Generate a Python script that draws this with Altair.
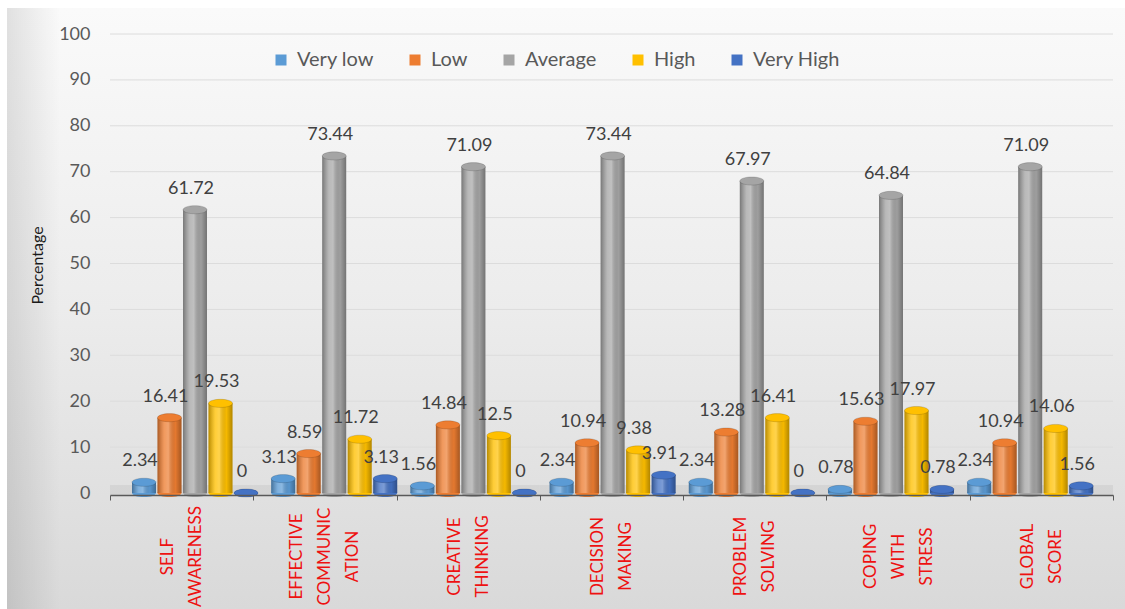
import altair as alt
import pandas as pd

# ---------------- data ----------------
categories = ["SELF|AWARENESS", "EFFECTIVE|COMMUNIC|ATION", "CREATIVE|THINKING",
              "DECISION|MAKING", "PROBLEM|SOLVING", "COPING|WITH|STRESS", "GLOBAL|SCORE"]
series = ["Very low", "Low", "Average", "High", "Very High"]
very_low = [2.34, 3.13, 1.56, 2.34, 2.34, 0.78, 2.34]
low = [16.41, 8.59, 14.84, 10.94, 13.28, 15.63, 10.94]
average = [61.72, 73.44, 71.09, 73.44, 67.97, 64.84, 71.09]
high = [19.53, 11.72, 12.5, 9.38, 16.41, 17.97, 14.06]
very_high = [0, 3.13, 0, 3.91, 0, 0.78, 1.56]
colors = ["#5B9BD5", "#ED7D31", "#A5A5A5", "#FFC000", "#4472C4"]
grid_values = [10, 20, 30, 40, 50, 60, 70, 80, 90, 100]
y_ticks = [0, 10, 20, 30, 40, 50, 60, 70, 80, 90, 100]

rows = []
for s, vals in zip(series, [very_low, low, average, high, very_high]):
    for c, v in zip(categories, vals):
        rows.append({"cat": c, "series": s, "value": v, "label": f"{v:g}"})
df = pd.DataFrame(rows)

# ---------------- layout ----------------
W, H = 1003, 459
PAD = {"left": 110, "top": 34, "right": 12, "bottom": 116}
FONT = "Lato"
LINE_H = 28

x_axis_scale = alt.Scale(domain=categories, range=[0, W], paddingInner=0, paddingOuter=0)
x_bar_scale = alt.Scale(domain=categories, range=[22, 22 + 7 * 139.2], paddingInner=0, paddingOuter=0)
xo_scale = alt.Scale(domain=series, range=[0, 126], paddingInner=0.06, paddingOuter=0)
y_scale = alt.Scale(domain=[0, 100], nice=False)

y_axis = alt.Axis(values=y_ticks, title="Percentage", grid=False, domain=False, ticks=False,
                  labelFont=FONT, labelFontSize=18, labelColor="#595959", labelPadding=20,
                  titleFont=FONT, titleFontSize=16, titleFontWeight="normal", titleColor="#1a1a1a",
                  titleAngle=270, titleX=-73, titleY=231, titleAlign="center", titleBaseline="middle",
                  zindex=1)
Y = alt.Y("value:Q", scale=y_scale, axis=y_axis)

x_axis = alt.Axis(title=None, labelExpr="split(datum.label, '|')", labelAngle=270,
                  labelAlign="center", labelBaseline="middle", labelFont=FONT, labelFontSize=17,
                  labelColor="#ee1111", labelLineHeight=LINE_H, labelPadding=56, labelOverlap=False,
                  domainColor="#595959", domainWidth=1.5, tickColor="#595959", tickSize=5,
                  tickBand="extent", offset=2, grid=False, zindex=1,
                  labelOffset={"condition": {"test": "length(split(datum.value, '|')) == 3",
                                             "value": -LINE_H},
                               "value": -LINE_H / 2})

legend = alt.Legend(orient="none", legendX=161, legendY=16, direction="horizontal", title=None,
                    symbolType="square", symbolSize=121, symbolStrokeWidth=0,
                    labelFont=FONT, labelFontSize=20, labelColor="#595959",
                    columnPadding=31, labelOffset=6, zindex=1)
COLOR = alt.Color("series:N", scale=alt.Scale(domain=series, range=colors), legend=legend, sort=series)

ELL = "M-1,0A1,0.34,0,1,0,1,0A1,0.34,0,1,0,-1,0Z"

# ---------------- background ----------------
one = pd.DataFrame({"k": [0]})
bg = alt.Chart(one).mark_rect(
    color=alt.Gradient(gradient="linear", x1=0, x2=0, y1=0, y2=1,
                       stops=[alt.GradientStop(color="#fafafa", offset=0),
                              alt.GradientStop(color="#ececec", offset=0.5),
                              alt.GradientStop(color="#d9d9d9", offset=1)])
).encode(x=alt.value(-103), x2=alt.value(W + 12), y=alt.value(-26), y2=alt.value(H + 116))

left_shade = alt.Chart(one).mark_rect(
    color=alt.Gradient(gradient="linear", x1=0, x2=1, y1=0, y2=0,
                       stops=[alt.GradientStop(color="rgba(0,0,0,0.10)", offset=0),
                              alt.GradientStop(color="rgba(0,0,0,0)", offset=1)])
).encode(x=alt.value(-103), x2=alt.value(-50), y=alt.value(-26), y2=alt.value(H + 116))

grid = alt.Chart(pd.DataFrame({"value": grid_values})).mark_rule(
    color="#dcdcdc", strokeWidth=1
).encode(y=Y)

floor = alt.Chart(pd.DataFrame({"cat": categories})).mark_rect(
    color="rgba(0,0,0,0.05)"
).encode(x=alt.X("cat:N", scale=x_axis_scale, axis=x_axis, sort=categories),
         y=alt.value(H - 8), y2=alt.value(H + 2))

# ---------------- bars ----------------
base = alt.Chart(df).encode(
    x=alt.X("cat:N", scale=x_bar_scale, axis=None, sort=categories),
    xOffset=alt.XOffset("series:N", scale=xo_scale, sort=series),
    y=Y,
)

bottoms = base.mark_point(shape=ELL, filled=True, size=576, opacity=1).encode(
    y=alt.datum(0), color=COLOR)
bars = base.mark_bar().encode(color=COLOR)
shade = base.mark_bar(
    color=alt.Gradient(gradient="linear", x1=0, x2=1, y1=0, y2=0,
                       stops=[alt.GradientStop(color="rgba(0,0,0,0.28)", offset=0),
                              alt.GradientStop(color="rgba(255,255,255,0.22)", offset=0.28),
                              alt.GradientStop(color="rgba(255,255,255,0.30)", offset=0.45),
                              alt.GradientStop(color="rgba(0,0,0,0.04)", offset=0.75),
                              alt.GradientStop(color="rgba(0,0,0,0.30)", offset=1)])
)
tops = base.mark_point(shape=ELL, filled=True, size=576, opacity=1,
                       stroke="#000000", strokeOpacity=0.18, strokeWidth=0.8).encode(color=COLOR)
texts = base.mark_text(dy=-21, dx=-4, fontSize=18, font=FONT, color="#404040",
                       baseline="middle").encode(text="label:N")

bar_group = alt.layer(bottoms, bars, shade, tops, texts)

chart = alt.layer(bg, left_shade, grid, floor, bar_group).resolve_scale(
    x="independent"
).properties(
    width=W, height=H,
    autosize=alt.AutoSizeParams(type="none"),
    padding=PAD,
    background="white",
).configure_view(stroke=None)

chart.save("out.html", embed_options={"renderer": "svg", "actions": False})
